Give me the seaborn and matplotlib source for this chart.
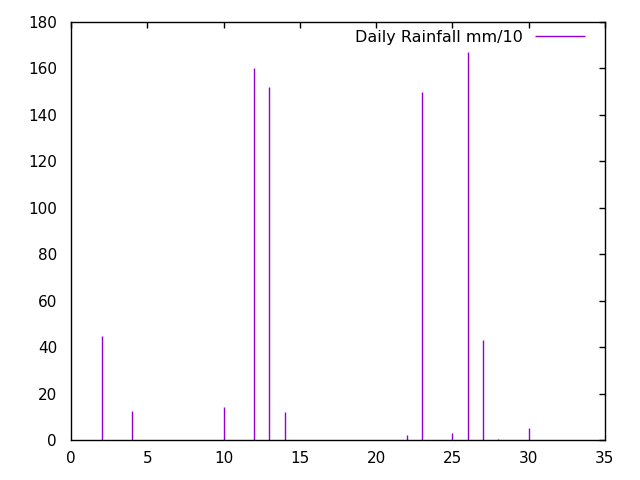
import numpy as np
import pandas as pd
import matplotlib
matplotlib.use("Agg")
import matplotlib.pyplot as plt
import seaborn as sns

# day of month and rainfall (mm/10)
days = [2, 4, 10, 12, 13, 14, 22, 23, 25, 26, 27, 28, 30]
rainfall = [45, 12.5, 14, 160, 152, 12, 2, 150, 3, 167, 43, 0.5, 5]

x_ticks = [0, 5, 10, 15, 20, 25, 30, 35]
y_ticks = [0, 20, 40, 60, 80, 100, 120, 140, 160, 180]

sns.set_style("white")
plt.rcParams["font.family"] = ["DejaVu Sans"]
plt.rcParams["text.color"] = "black"

df = pd.DataFrame({"day": days, "rain": rainfall})

fig = plt.figure(figsize=(6.4, 4.8), dpi=100)
ax = fig.add_axes([71 / 640, 40 / 480, 534 / 640, 418 / 480])

ax.vlines(df["day"], 0, df["rain"], color="#9400d3", linewidth=1.0,
          label="Daily Rainfall mm/10")

ax.set_xlim(0, 35)
ax.set_ylim(0, 180)
ax.set_xticks(x_ticks)
ax.set_yticks(y_ticks)
ax.tick_params(direction="in", length=4, width=1, top=True, right=True,
               labelsize=11, colors="black")
ax.tick_params(axis="y", pad=10)
ax.tick_params(axis="x", pad=8)
for s in ax.spines.values():
    s.set_color("black")
    s.set_linewidth(1)

leg = ax.legend(loc="upper right", frameon=False, markerfirst=False,
                fontsize=11.5, handlelength=3.1, borderaxespad=0.4,
                handletextpad=0.75, labelcolor="black",
                bbox_to_anchor=(0.986, 1.012))

fig.savefig("out.png", dpi=100)
